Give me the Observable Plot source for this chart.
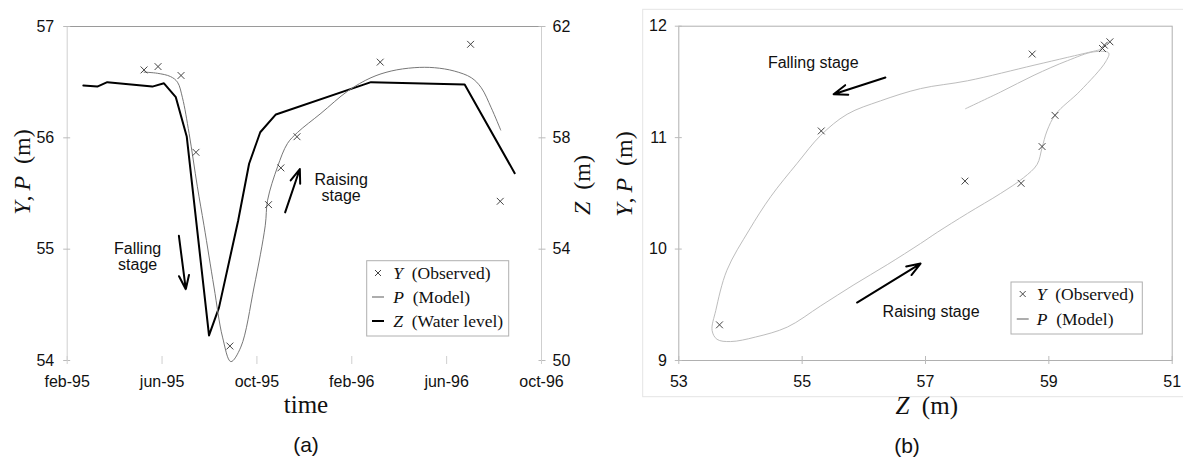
<!DOCTYPE html>
<html><head><meta charset="utf-8">
<script src="https://cdn.jsdelivr.net/npm/d3@7"></script>
<script src="https://cdn.jsdelivr.net/npm/@observablehq/plot@0.6"></script>
<style>
body{margin:0;background:#fff;}
#wrap{position:relative;width:1183px;height:461px;overflow:hidden;background:#fff;}
#pa{position:absolute;left:0;top:0;}
#pb{position:absolute;left:600px;top:0;}
</style></head><body><div id="wrap"><div id="pa"></div><div id="pb"></div></div>
<script>
// ---------- Panel (a): time series ----------
const monthTicks = [0, 4, 8, 12, 16, 20];            // months after Feb 1995
const monthLabels = ["feb-95", "jun-95", "oct-95", "feb-96", "jun-96", "oct-96"];
const leftTicks = [54, 55, 56, 57];                   // Y, P (m)
const zTicks = [50, 54, 58, 62];                      // Z (m), right axis

const obsMonth = [3.24, 3.83, 4.80, 5.43, 6.86, 8.49, 9.01, 9.69, 13.20, 17.01, 18.26];
const obsY     = [56.61, 56.64, 56.56, 55.87, 54.13, 55.40, 55.73, 56.01, 56.68, 56.84, 55.43];

const modelMonth = [3.24, 3.80, 4.36, 4.65, 4.86, 5.14, 5.49, 5.77, 6.19, 6.55, 6.90, 7.32, 7.88, 8.35, 8.45,
                    8.87, 9.29, 9.72, 10.70, 11.83, 12.81, 13.66, 14.63, 15.48, 16.32, 17.04, 17.46, 17.88, 18.28];
const modelP     = [56.59, 56.58, 56.55, 56.50, 56.36, 56.04, 55.56, 55.21, 54.66, 54.21, 53.99, 54.12, 54.66, 55.21, 55.44,
                    55.74, 55.95, 56.05, 56.22, 56.42, 56.54, 56.60, 56.63, 56.63, 56.60, 56.54, 56.45, 56.27, 56.07];

const levelMonth = [0.68, 1.27, 1.69, 3.59, 4.08, 4.58, 5.04, 5.98, 6.40, 7.21, 7.67, 8.14, 8.80, 12.81, 16.76, 18.87];
const levelZ     = [59.88, 59.84, 60.00, 59.84, 59.96, 59.46, 58.05, 50.90, 51.90, 55.03, 57.07, 58.20, 58.84, 60.00, 59.92, 56.73];

const annotA = [
  {x: 11.55, y: 55.55, text: "Raising\nstage"},
  {x: 2.97,  y: 54.93, text: "Falling\nstage"}
];
const arrowsA = [
  {x1: 9.19, y1: 55.33, x2: 9.81, y2: 55.72},
  {x1: 4.71, y1: 55.12, x2: 5.00, y2: 54.64}
];

// ---------- Panel (b): hysteresis ----------
const bXTicks  = [53, 55, 57, 59, 61];
const bXLabels = ["53", "55", "57", "59", "51"];
const bYTicks  = [9, 10, 11, 12];

const bObsZ = [55.31, 58.73, 59.87, 59.90, 59.99, 59.10, 58.89, 58.55, 57.64, 53.66];
const bObsY = [11.06, 11.75, 11.80, 11.83, 11.86, 11.20, 10.92, 10.59, 10.61, 9.32];

const bModelZ = [59.84, 59.30, 58.76, 57.68, 56.92, 56.27, 55.73, 55.30, 54.92, 54.49, 54.14, 53.78, 53.60,
                 53.54, 53.62, 53.84, 54.24, 54.76, 55.30, 55.84, 56.38, 56.92, 57.19, 57.68, 58.22, 58.59, 58.81,
                 58.89, 58.97, 59.11, 59.51, 59.92, 59.97, 59.73, 59.30, 58.76, 58.22, 57.65];
const bModelP = [11.79, 11.72, 11.65, 11.51, 11.44, 11.33, 11.21, 11.02, 10.77, 10.47, 10.17, 9.81, 9.45,
                 9.27, 9.19, 9.17, 9.21, 9.30, 9.49, 9.68, 9.86, 10.05, 10.15, 10.32, 10.50, 10.64, 10.76,
                 10.91, 11.06, 11.21, 11.42, 11.68, 11.76, 11.77, 11.69, 11.56, 11.41, 11.26];

const annotB = [
  {x: 55.18, y: 11.67, text: "Falling stage"},
  {x: 57.09, y: 9.44,  text: "Raising stage"}
];
const arrowsB = [
  {x1: 56.35, y1: 11.54, x2: 55.51, y2: 11.39},
  {x1: 55.89, y1: 9.52,  x2: 56.92, y2: 9.87}
];

// ---------- helpers ----------
const SANS = "'Liberation Sans', Arial, Helvetica, sans-serif";
const SERIF = "'Liberation Serif', 'Times New Roman', serif";
const zToY = z => 54 + (z - 50) / 4;
const OB = 600; // page x offset of panel (b) svg

const obsData = obsMonth.map((m, i) => ({m, y: obsY[i]}));
const modelData = modelMonth.map((m, i) => ({m, p: modelP[i]}));
const levelData = levelMonth.map((m, i) => ({m, y: zToY(levelZ[i])}));
const bObs = bObsZ.map((z, i) => ({z, y: bObsY[i]}));
const bModel = bModelZ.map((z, i) => ({z, p: bModelP[i]}));

function mathLabel(svg, x, y, rotate, parts, size) {
  const t = d3.select(svg).append("text")
    .attr("transform", `translate(${x},${y})` + (rotate ? ` rotate(${rotate})` : ""))
    .attr("text-anchor", "middle")
    .attr("font-family", SERIF)
    .attr("font-size", size)
    .attr("fill", "#111");
  for (const [s, it] of parts) {
    t.append("tspan").attr("font-style", it ? "italic" : "normal").text(s);
  }
  return t;
}
function sansLabel(svg, x, y, s, size) {
  d3.select(svg).append("text").attr("x", x).attr("y", y).attr("text-anchor", "middle")
    .attr("font-family", SANS).attr("font-size", size).attr("fill", "#111").text(s);
}
function legend(svg, x, y, w, h, items, tx, rowY, symX) {
  const g = d3.select(svg).append("g").attr("text-anchor", "start");
  g.append("rect").attr("x", x).attr("y", y).attr("width", w).attr("height", h)
    .attr("fill", "#fff").attr("stroke", "#b0b0b0").attr("stroke-width", 1);
  items.forEach((it, i) => {
    const by = rowY[i];
    const cy = by - 6;
    if (it.kind === "x") {
      const s = 3;
      g.append("path").attr("d", `M${symX - s},${cy - s}L${symX + s},${cy + s}M${symX - s},${cy + s}L${symX + s},${cy - s}`)
        .attr("stroke", "#444").attr("stroke-width", 1).attr("fill", "none");
    } else {
      g.append("line").attr("x1", symX - 6).attr("x2", symX + 6).attr("y1", cy).attr("y2", cy)
        .attr("stroke", it.color).attr("stroke-width", it.width);
    }
    const t = g.append("text").attr("x", tx).attr("y", by).attr("font-family", SERIF)
      .attr("text-anchor", "start").attr("font-size", 17.5).attr("fill", "#111");
    t.append("tspan").attr("font-style", "italic").text(it.sym);
    t.append("tspan").text("\u2002" + it.label);
  });
}

// ---------- Plot (a) ----------
const A = Plot.plot({
  width: 620, height: 461,
  marginLeft: 66.7, marginRight: 79, marginTop: 26, marginBottom: 101,
  style: {fontFamily: SANS, fontSize: "16px", color: "#111", background: "#fff", overflow: "visible"},
  x: {domain: [0, 20]},
  y: {domain: [54, 57]},
  marks: [
    Plot.ruleX([0], {stroke: "#cfcfcf", y1: 54, y2: 57}),
    Plot.ruleX([20], {stroke: "#cfcfcf", y1: 54, y2: 57}),
    Plot.ruleY([57], {stroke: "#9a9a9a"}),
    Plot.axisY(leftTicks, {anchor: "left", tickSize: 7, dx: 3.5, tickFormat: () => "", stroke: "#bbb", label: null}),
    Plot.axisY(leftTicks, {anchor: "left", tickSize: 0, tickPadding: 13, label: null, tickFormat: d => String(d)}),
    Plot.axisY(leftTicks, {anchor: "right", tickSize: 7, dx: -3.5, tickFormat: () => "", stroke: "#bbb", label: null}),
    Plot.axisY(zTicks.map(zToY), {anchor: "right", tickSize: 0, tickPadding: 11, label: null,
      tickFormat: d => String(zTicks.find(z => Math.abs(zToY(z) - d) < 1e-9))}),
    Plot.axisX(monthTicks, {anchor: "bottom", tickSize: 8, dy: -4, tickFormat: () => "", stroke: "#cfcfcf", label: null}),
    Plot.axisX(monthTicks, {anchor: "bottom", tickSize: 0, tickPadding: 15, label: null,
      tickFormat: d => monthLabels[monthTicks.indexOf(d)]}),
    Plot.line(levelData, {x: "m", y: "y", stroke: "#000", strokeWidth: 2}),
    Plot.line(modelData, {x: "m", y: "p", stroke: "#777", strokeWidth: 1, curve: "catmull-rom"}),
    Plot.dot(obsData, {x: "m", y: "y", symbol: "times", r: 3.2, stroke: "#444", strokeWidth: 1}),
    Plot.arrow(arrowsA, {x1: "x1", y1: "y1", x2: "x2", y2: "y2", stroke: "#000", strokeWidth: 2, headLength: 11, headAngle: 40}),
    Plot.text(annotA, {x: "x", y: "y", text: "text", fontSize: 16, lineHeight: 0.98, fill: "#111"})
  ]
});
document.getElementById("pa").appendChild(A);
mathLabel(A, 30, 172, -90, [["Y", true], [",\u2009", false], ["P", true], ["\u2002(m)", false]], 24);
mathLabel(A, 590, 185, -90, [["Z", true], ["\u2002(m)", false]], 24);
mathLabel(A, 306, 413, 0, [["time", false]], 25);
sansLabel(A, 306, 452, "(a)", 21);
legend(A, 366.7, 260.7, 142, 75.3, [
  {kind: "x", sym: "Y", label: "(Observed)"},
  {kind: "l", sym: "P", label: "(Model)", color: "#777", width: 1.2},
  {kind: "l", sym: "Z", label: "(Water level)", color: "#000", width: 2}
], 393.3, [279, 303, 327], 378);

// ---------- Plot (b) ----------
const B = Plot.plot({
  width: 1183 - OB, height: 461,
  marginLeft: 678.3 - OB, marginRight: 11.3, marginTop: 25.7, marginBottom: 101,
  style: {fontFamily: SANS, fontSize: "16px", color: "#111", background: "#fff", overflow: "visible"},
  x: {domain: [53, 61]},
  y: {domain: [9, 12]},
  marks: [
    Plot.frame({stroke: "#b0b0b0"}),
    Plot.axisY(bYTicks, {anchor: "left", tickSize: 7, dx: 3.5, tickFormat: () => "", stroke: "#bbb", label: null}),
    Plot.axisY(bYTicks, {anchor: "left", tickSize: 0, tickPadding: 12, label: null, tickFormat: d => String(d)}),
    Plot.axisX(bXTicks, {anchor: "bottom", tickSize: 8, dy: -4, tickFormat: () => "", stroke: "#bbb", label: null}),
    Plot.axisX(bXTicks, {anchor: "bottom", tickSize: 0, tickPadding: 15, label: null,
      tickFormat: d => bXLabels[bXTicks.indexOf(d)]}),
    Plot.line(bModel, {x: "z", y: "p", stroke: "#bdbdbd", strokeWidth: 1, curve: "catmull-rom"}),
    Plot.dot(bObs, {x: "z", y: "y", symbol: "times", r: 3.2, stroke: "#444", strokeWidth: 1}),
    Plot.arrow(arrowsB, {x1: "x1", y1: "y1", x2: "x2", y2: "y2", stroke: "#000", strokeWidth: 2, headLength: 11, headAngle: 40}),
    Plot.text(annotB, {x: "x", y: "y", text: "text", fontSize: 16, fill: "#111"})
  ]
});
document.getElementById("pb").appendChild(B);
d3.select(B).insert("rect", ":first-child").attr("x", 642.7 - OB).attr("y", 9.3)
  .attr("width", 1183 - 642.7 + 5).attr("height", 387.4)
  .attr("fill", "none").attr("stroke", "#e4e4e4").attr("stroke-width", 1);
mathLabel(B, 632 - OB, 174, -90, [["Y", true], [",\u2009", false], ["P", true], ["\u2002(m)", false]], 24);
mathLabel(B, 926.7 - OB, 414, 0, [["Z", true], ["\u2002(m)", false]], 25);
sansLabel(B, 907 - OB, 453, "(b)", 21);
legend(B, 1011 - OB, 282, 131.3, 52, [
  {kind: "x", sym: "Y", label: "(Observed)"},
  {kind: "l", sym: "P", label: "(Model)", color: "#777", width: 1.2}
], 1036.7 - OB, [300, 325], 1022.7 - OB);
</script>
</body></html>
